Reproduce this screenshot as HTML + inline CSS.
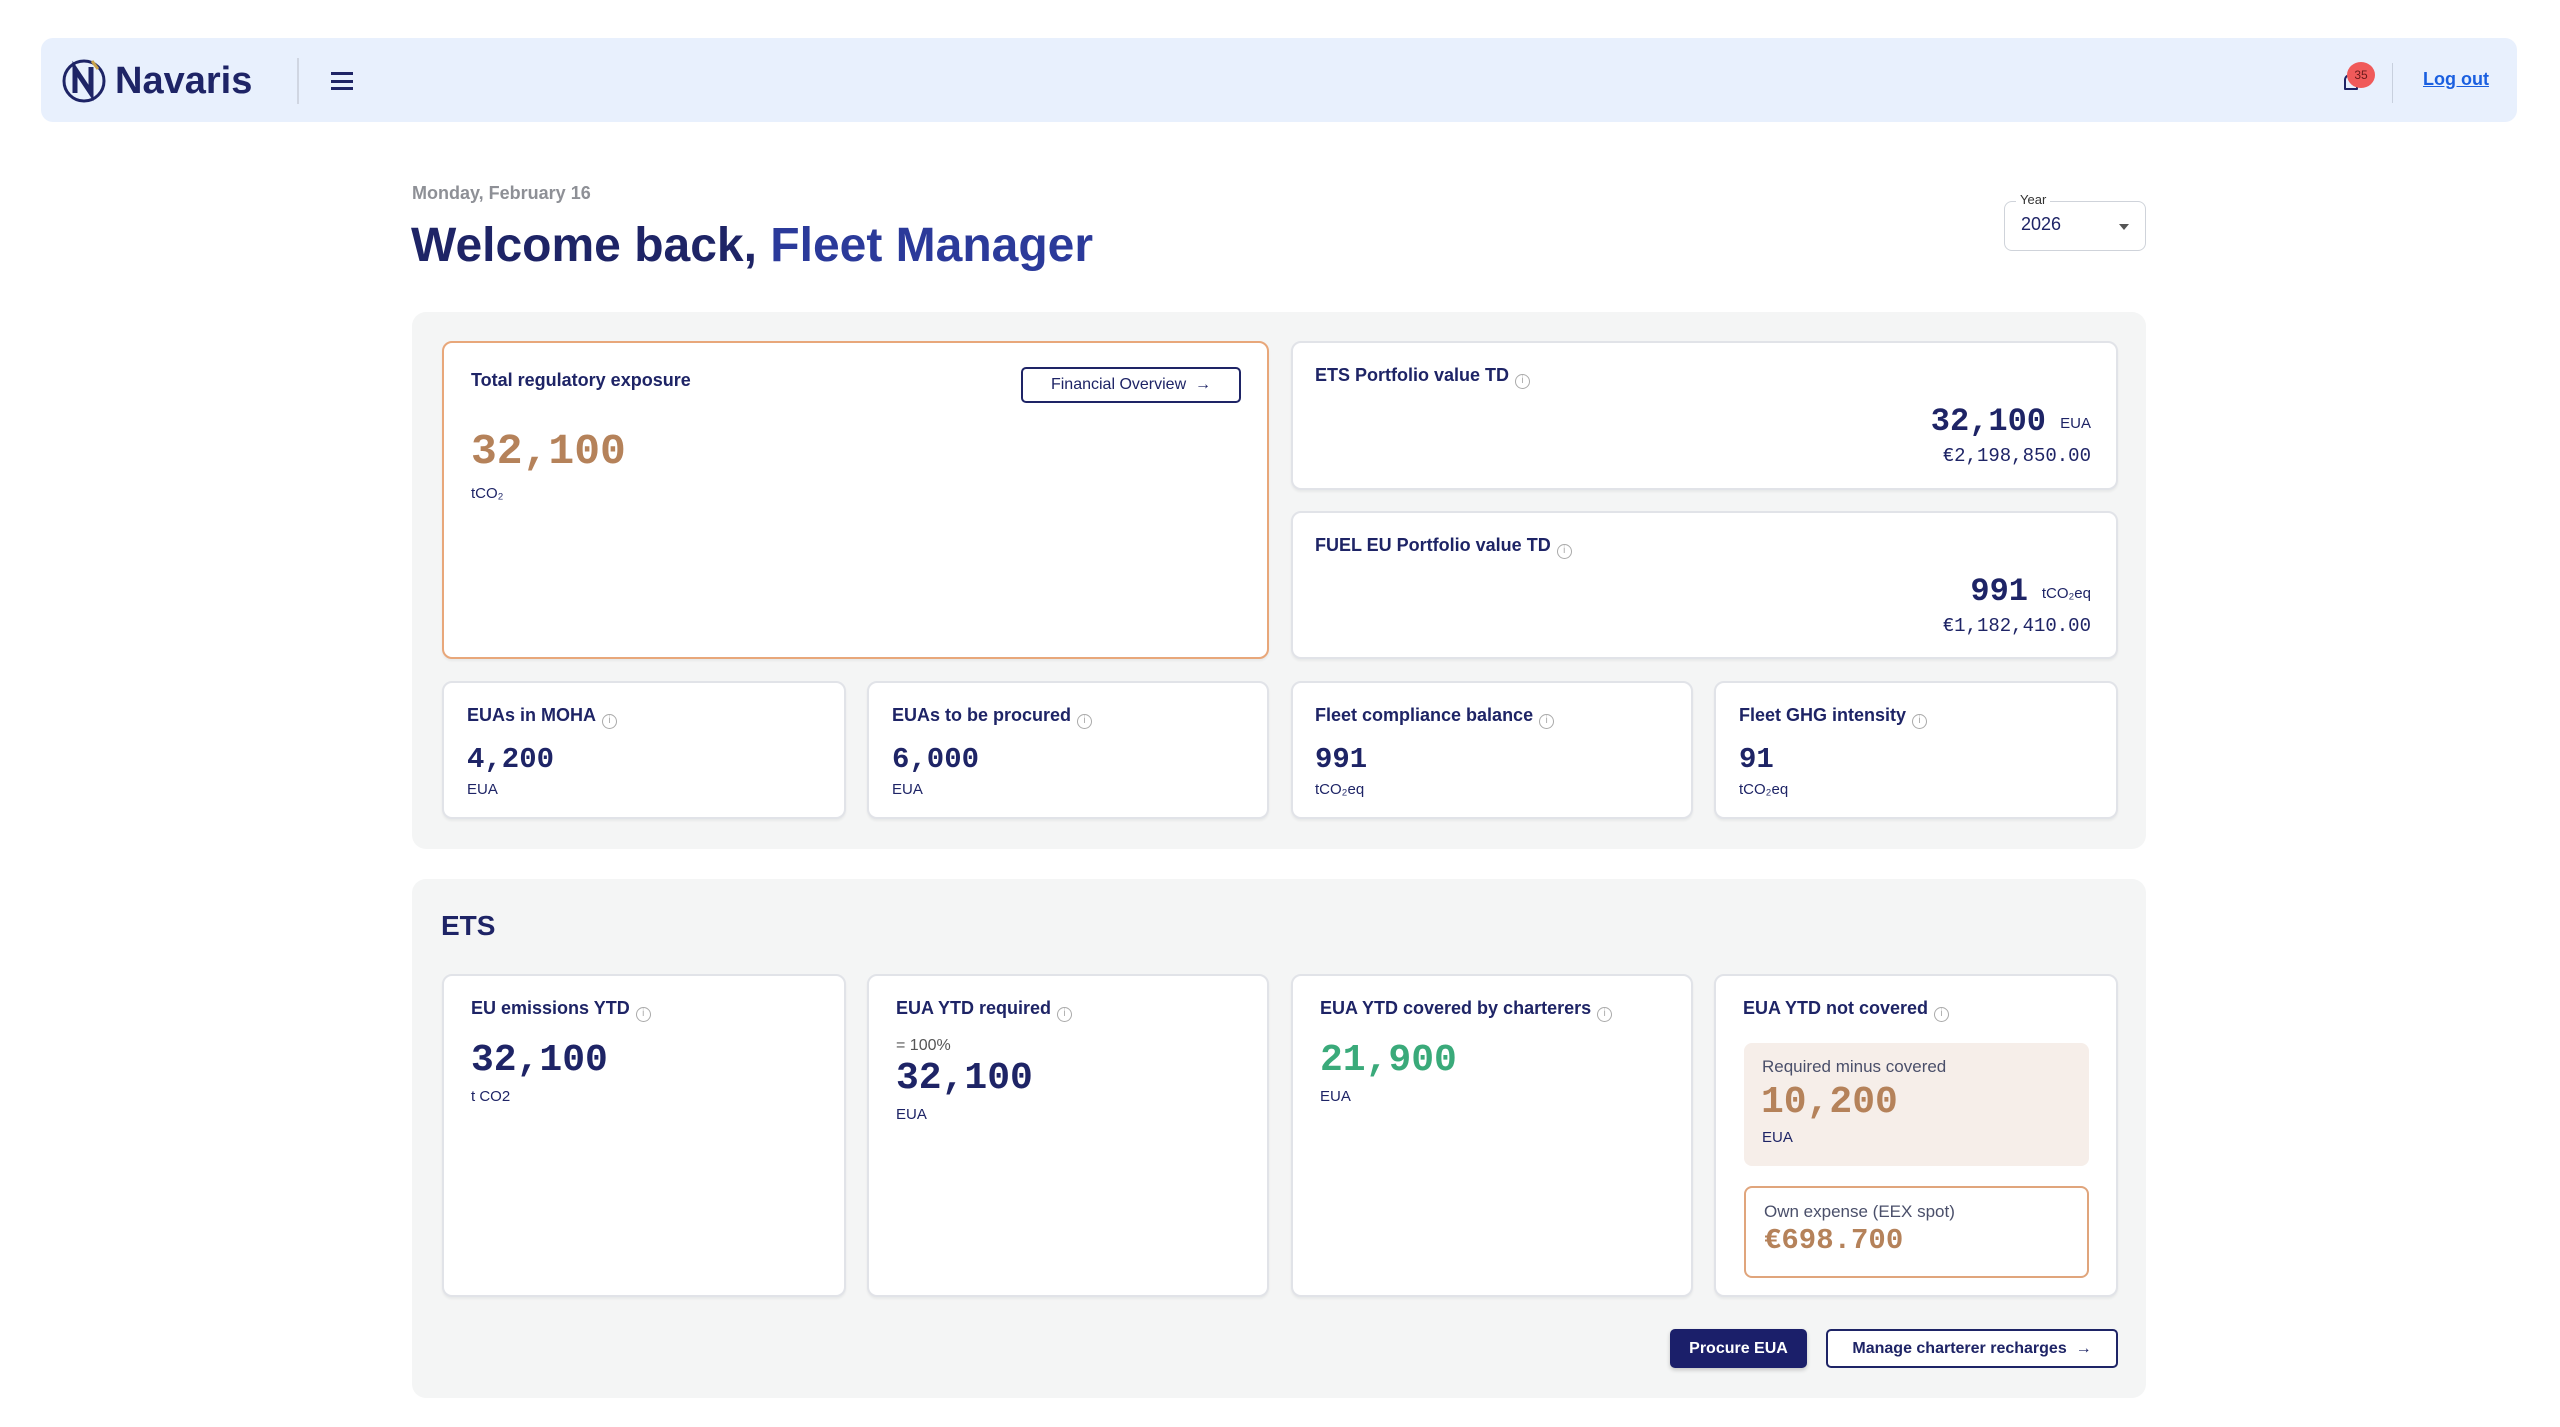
<!DOCTYPE html>
<html><head><meta charset="utf-8"><style>
*{box-sizing:border-box;margin:0;padding:0}
body{width:2560px;height:1427px;background:#fff;font-family:"Liberation Sans",sans-serif;color:#1e2466;position:relative;overflow:hidden}
.a{position:absolute}
.card{position:absolute;background:#fff;border:2px solid #e1e3e8;border-radius:10px;box-shadow:0 2px 2px rgba(0,0,0,.05)}
.lbl{position:absolute;font-weight:bold;font-size:18px;color:#1e2466;white-space:nowrap}
.info{display:inline-block;width:15px;height:15px;border:1.5px solid #aaa;border-radius:50%;vertical-align:-2px;margin-left:6px;font-size:10px;color:#aaa;text-align:center;line-height:12px;font-weight:normal}
.num{position:absolute;font-family:"Liberation Mono",monospace;font-weight:bold;white-space:nowrap}
.unit{position:absolute;font-size:15px;color:#1e2466;white-space:nowrap}
.panel{position:absolute;background:#f4f5f5;border-radius:14px}
</style></head><body>
<div class="a" style="left:41px;top:38px;width:2476px;height:84px;background:#e8f0fd;border-radius:12px"></div>
<svg class="a" style="left:62px;top:57px" width="46" height="48" viewBox="0 0 46 48"><circle cx="22" cy="24" r="20" fill="none" stroke="#1e2466" stroke-width="3"/><path d="M13 36V12l16 24V10" fill="none" stroke="#1e2466" stroke-width="5"/><path d="M30 4l6 8" stroke="#c9a24a" stroke-width="3"/></svg>
<div class="a" style="left:115px;top:60px;font-size:38px;font-weight:bold;color:#1e2466">Navaris</div>
<div class="a" style="left:297px;top:58px;width:2px;height:46px;background:#d0d6e2"></div>
<div class="a" style="left:331px;top:72px;width:22px;height:18px;border-top:3px solid #1e2466;border-bottom:3px solid #1e2466"><div style="margin-top:4.5px;height:3px;background:#1e2466"></div></div>
<div class="a" style="left:2344px;top:74px;width:14px;height:16px;border:2.5px solid #1e2466;border-radius:6px 6px 1px 1px"></div>
<div class="a" style="left:2347px;top:62px;width:28px;height:26px;background:#f05a5a;border-radius:50%;font-size:12px;color:#6a1a1a;text-align:center;line-height:26px">35</div>
<div class="a" style="left:2392px;top:63px;width:1px;height:40px;background:#c8d0de"></div>
<div class="a" style="left:2423px;top:69px;font-size:18px;font-weight:bold;color:#1a5fe0;text-decoration:underline">Log out</div>

<div class="a" style="left:412px;top:183px;font-size:18px;font-weight:bold;color:#8e9096">Monday, February 16</div>
<div class="a" style="left:411px;top:218px;font-size:48px;font-weight:bold;color:#1e2466">Welcome back, <span style="color:#2b3a9a">Fleet Manager</span></div>
<div class="a" style="left:2004px;top:201px;width:142px;height:50px;border:1.5px solid #cfd3da;border-radius:8px;background:#fff"><div style="position:absolute;left:16px;top:12px;font-size:18px;color:#1e2466">2026</div><div style="position:absolute;right:16px;top:22px;border:5px solid transparent;border-top:6px solid #555"></div></div>
<div class="a" style="left:2016px;top:192px;font-size:13px;background:#fff;padding:0 4px;color:#333">Year</div>

<div class="panel" style="left:412px;top:312px;width:1734px;height:537px"></div>
<div class="card" style="left:442px;top:341px;width:827px;height:318px;border-color:#e8a77a">
<div class="lbl" style="left:27px;top:27px">Total regulatory exposure</div>
<div class="a" style="left:577px;top:24px;width:220px;height:36px;border:2px solid #1e2466;border-radius:5px;font-size:16px;text-align:center;line-height:32px;color:#1e2466">Financial Overview &nbsp;→</div>
<div class="num" style="left:27px;top:84px;font-size:43px;color:#b5825a">32,100</div>
<div class="unit" style="left:27px;top:142px">tCO₂</div></div>
<div class="card" style="left:1291px;top:341px;width:827px;height:149px">
<div class="lbl" style="left:22px;top:22px">ETS Portfolio value TD<span class="info">i</span></div>
<div class="num" style="right:70px;top:60px;font-size:32px;color:#1e2466">32,100</div><div class="unit" style="right:25px;top:72px">EUA</div>
<div class="num" style="right:25px;top:102px;font-size:19px;color:#1e2466;font-weight:normal">€2,198,850.00</div></div>
<div class="card" style="left:1291px;top:511px;width:827px;height:148px">
<div class="lbl" style="left:22px;top:22px">FUEL EU Portfolio value TD<span class="info">i</span></div>
<div class="num" style="right:88px;top:60px;font-size:32px;color:#1e2466">991</div><div class="unit" style="right:25px;top:72px">tCO₂eq</div>
<div class="num" style="right:25px;top:102px;font-size:19px;color:#1e2466;font-weight:normal">€1,182,410.00</div></div>

<div class="card" style="left:442px;top:681px;width:404px;height:138px"><div class="lbl" style="left:23px;top:22px">EUAs in MOHA<span class="info">i</span></div><div class="num" style="left:23px;top:60px;font-size:29px">4,200</div><div class="unit" style="left:23px;top:98px">EUA</div></div>
<div class="card" style="left:867px;top:681px;width:402px;height:138px"><div class="lbl" style="left:23px;top:22px">EUAs to be procured<span class="info">i</span></div><div class="num" style="left:23px;top:60px;font-size:29px">6,000</div><div class="unit" style="left:23px;top:98px">EUA</div></div>
<div class="card" style="left:1291px;top:681px;width:402px;height:138px"><div class="lbl" style="left:22px;top:22px">Fleet compliance balance<span class="info">i</span></div><div class="num" style="left:22px;top:60px;font-size:29px">991</div><div class="unit" style="left:22px;top:98px">tCO₂eq</div></div>
<div class="card" style="left:1714px;top:681px;width:404px;height:138px"><div class="lbl" style="left:23px;top:22px">Fleet GHG intensity<span class="info">i</span></div><div class="num" style="left:23px;top:60px;font-size:29px">91</div><div class="unit" style="left:23px;top:98px">tCO₂eq</div></div>

<div class="panel" style="left:412px;top:879px;width:1734px;height:519px"></div>
<div class="a" style="left:441px;top:910px;font-size:28px;font-weight:bold;color:#1e2466">ETS</div>
<div class="card" style="left:442px;top:974px;width:404px;height:323px"><div class="lbl" style="left:27px;top:22px">EU emissions YTD<span class="info">i</span></div><div class="num" style="left:27px;top:63px;font-size:38px">32,100</div><div class="unit" style="left:27px;top:112px">t CO2</div></div>
<div class="card" style="left:867px;top:974px;width:402px;height:323px"><div class="lbl" style="left:27px;top:22px">EUA YTD required<span class="info">i</span></div><div class="unit" style="left:27px;top:61px;font-size:16px;color:#555">= 100%</div><div class="num" style="left:27px;top:81px;font-size:38px">32,100</div><div class="unit" style="left:27px;top:130px">EUA</div></div>
<div class="card" style="left:1291px;top:974px;width:402px;height:323px"><div class="lbl" style="left:27px;top:22px">EUA YTD covered by charterers<span class="info">i</span></div><div class="num" style="left:27px;top:63px;font-size:38px;color:#3aaa7a">21,900</div><div class="unit" style="left:27px;top:112px">EUA</div></div>
<div class="card" style="left:1714px;top:974px;width:404px;height:323px"><div class="lbl" style="left:27px;top:22px">EUA YTD not covered<span class="info">i</span></div>
<div class="a" style="left:28px;top:67px;width:345px;height:123px;background:#f6eee9;border-radius:8px"><div class="unit" style="left:18px;top:14px;font-size:17px;color:#4a4f6a">Required minus covered</div><div class="num" style="left:17px;top:38px;font-size:38px;color:#b5825a">10,200</div><div class="unit" style="left:18px;top:86px">EUA</div></div>
<div class="a" style="left:28px;top:210px;width:345px;height:92px;border:2px solid #e0a57c;border-radius:8px"><div class="unit" style="left:18px;top:14px;font-size:17px;color:#4a4f6a">Own expense (EEX spot)</div><div class="num" style="left:18px;top:36px;font-size:29px;color:#b5825a">€698.700</div></div></div>
<div class="a" style="left:1670px;top:1329px;width:137px;height:39px;background:#1b1f6a;border-radius:5px;color:#fff;font-size:16px;font-weight:bold;text-align:center;line-height:39px;box-shadow:0 2px 4px rgba(0,0,0,.2)">Procure EUA</div>
<div class="a" style="left:1826px;top:1329px;width:292px;height:39px;border:2px solid #1e2466;border-radius:5px;background:#fff;color:#1e2466;font-size:16px;font-weight:bold;text-align:center;line-height:35px">Manage charterer recharges &nbsp;→</div>
</body></html>
